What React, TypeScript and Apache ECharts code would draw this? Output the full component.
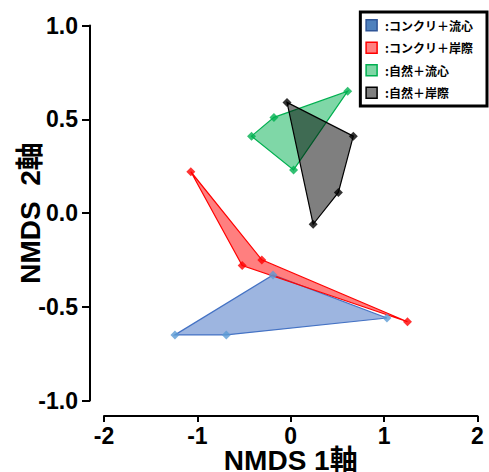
import React, { useEffect, useRef } from "react";
import * as echarts from "echarts";

const groupNames = [":コンクリ＋流心", ":コンクリ＋岸際", ":自然＋流心", ":自然＋岸際"];

const blueX = [-1.24, -0.19, 1.03, -0.69];
const blueY = [-0.65, -0.33, -0.56, -0.65];
const redX = [-1.07, -0.31, 1.25, -0.52];
const redY = [0.22, -0.25, -0.58, -0.28];
const greenX = [-0.42, -0.18, 0.61, 0.03];
const greenY = [0.41, 0.51, 0.65, 0.23];
const blackX = [-0.04, 0.67, 0.51, 0.24];
const blackY = [0.59, 0.41, 0.11, -0.06];

const xTicks = { min: -2, max: 2, step: 1 };
const yTicks = { min: -1, max: 1, step: 0.5 };

const groups = [
  { x: blueX, y: blueY, fill: "rgba(68,114,196,0.52)", stroke: "#4472c4", marker: "#5b9bd5", legendFill: "#4f81bd", legendBorder: "#2f5597" },
  { x: redX, y: redY, fill: "rgba(255,0,0,0.5)", stroke: "#ff0000", marker: "#ff0000", legendFill: "#ff8080", legendBorder: "#ff0000" },
  { x: greenX, y: greenY, fill: "rgba(0,176,80,0.5)", stroke: "#00b050", marker: "#00b050", legendFill: "#7fd6a5", legendBorder: "#00b050" },
  { x: blackX, y: blackY, fill: "rgba(0,0,0,0.5)", stroke: "#000000", marker: "#000000", legendFill: "#808080", legendBorder: "#000000" },
];

export default function App() {
  const ref = useRef<HTMLDivElement>(null);
  useEffect(() => {
    if (!ref.current) return;
    const chart = echarts.init(ref.current, undefined, { renderer: "svg" });
    const polySeries = groups.map((g, gi) => ({
      type: "custom",
      name: groupNames[gi],
      data: g.x.map((x, i) => [x, g.y[i]]),
      z: 2 + gi,
      renderItem: (params: any, api: any) => {
        if (params.dataIndex !== 0) return null;
        const pts = g.x.map((x, i) => api.coord([x, g.y[i]]));
        return {
          type: "polygon",
          shape: { points: pts },
          style: { fill: g.fill, stroke: g.stroke, lineWidth: 1.2 },
        };
      },
    }));
    const scatterSeries = groups.map((g, gi) => ({
      type: "scatter",
      name: "pts" + gi,
      data: g.x.map((x, i) => [x, g.y[i]]),
      symbol: "diamond",
      symbolSize: 9,
      itemStyle: { color: g.marker },
      z: 10,
    }));
    const tickFont = { fontFamily: "Liberation Sans, Arial", fontWeight: "bold", fontSize: 23, color: "#000" };
    const titleFont = { fontFamily: "Liberation Sans, Noto Sans CJK JP", fontWeight: "bold", fontSize: 28, color: "#000" };
    chart.setOption({
      animation: false,
      grid: { left: 104, right: 11.5, top: 25.5, bottom: 71.5, containLabel: false, outerBoundsMode: "none" },
      legend: {
        right: 2,
        top: 12,
        orient: "vertical",
        padding: [7, 14, 7, 5],
        itemGap: 10,
        itemWidth: 11,
        itemHeight: 11,
        borderWidth: 3,
        borderColor: "#000",
        borderRadius: 0,
        backgroundColor: "#fff",
        textStyle: { fontFamily: "Noto Sans CJK JP", fontWeight: "bold", fontSize: 12, color: "#000", padding: [0, 0, 0, 3] },
        data: groupNames.map((n, i) => ({
          name: n,
          icon: "rect",
          itemStyle: { color: groups[i].legendFill, borderColor: groups[i].legendBorder, borderWidth: 1.5 },
        })),
      },
      xAxis: {
        type: "value",
        min: xTicks.min,
        max: xTicks.max,
        interval: xTicks.step,
        offset: 15.5,
        splitLine: { show: false },
        axisLine: { show: true, onZero: false, lineStyle: { color: "#000", width: 2 } },
        axisTick: { show: true, length: 6, lineStyle: { color: "#000", width: 2 } },
        axisLabel: { ...tickFont, margin: 8 },
        name: "NMDS 1軸",
        nameLocation: "middle",
        nameGap: 30,
        nameMoveOverlap: false,
        nameTextStyle: titleFont,
      },
      yAxis: {
        type: "value",
        min: yTicks.min,
        max: yTicks.max,
        interval: yTicks.step,
        offset: 14,
        splitLine: { show: false },
        axisLine: { show: true, onZero: false, lineStyle: { color: "#000", width: 2 } },
        axisTick: { show: true, length: 8, lineStyle: { color: "#000", width: 2 } },
        axisLabel: { ...tickFont, margin: 12, formatter: (v: number) => v.toFixed(1) },
        name: "NMDS  2軸",
        nameLocation: "middle",
        nameGap: 46,
        nameMoveOverlap: false,
        nameTextStyle: titleFont,
      },
      series: [...polySeries, ...scatterSeries],
    });
    return () => chart.dispose();
  }, []);
  return <div ref={ref} style={{ width: 489, height: 472, position: "absolute", left: 0, top: 0 }} />;
}
